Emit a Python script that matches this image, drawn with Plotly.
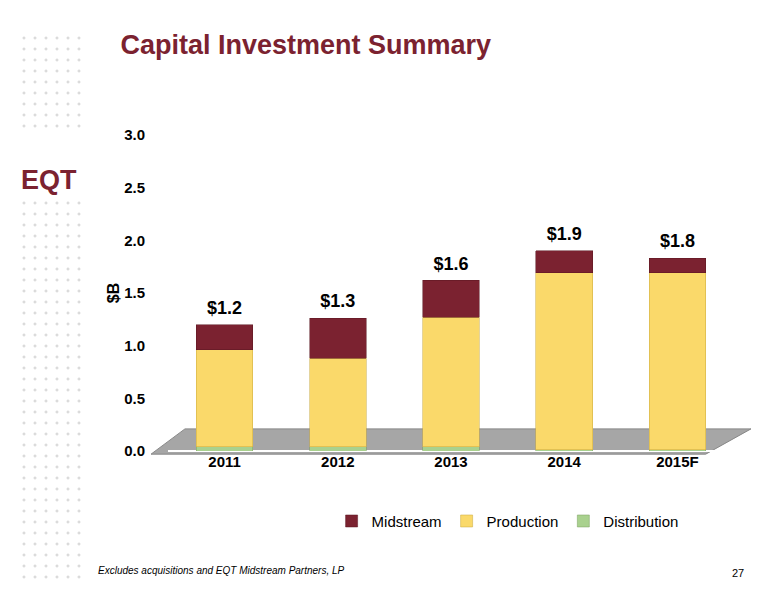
import numpy as np
import plotly.graph_objects as go

years = ["2011", "2012", "2013", "2014", "2015F"]
distribution = [0.04, 0.04, 0.04, 0.01, 0.01]
production = [0.92, 0.84, 1.23, 1.68, 1.68]
midstream = [0.24, 0.38, 0.35, 0.21, 0.14]
totals = ["$1.2", "$1.3", "$1.6", "$1.9", "$1.8"]

W, H = 776, 600
L, R, T, B = 160, 50, 127, 157
pw, ph = W - L - R, H - T - B

fig = go.Figure()
fig.add_trace(go.Bar(x=years, y=distribution, name="Distribution",
                     marker=dict(color="#A9D18E", line=dict(color="#7a9e60", width=0.5))))
fig.add_trace(go.Bar(x=years, y=production, name="Production",
                     marker=dict(color="#FAD96A", line=dict(color="#c9a93c", width=0.5))))
fig.add_trace(go.Bar(x=years, y=midstream, name="Midstream",
                     marker=dict(color="#7B2230", line=dict(color="#5a1520", width=0.5))))

top = [d + p + m for d, p, m in zip(distribution, production, midstream)]
fig.add_trace(go.Scatter(x=years, y=[t + 0.06 for t in top], mode="text",
                         text=["<b>" + t + "</b>" for t in totals],
                         textposition="top center", showlegend=False,
                         textfont=dict(size=18, color="#000000")))


def px_x(px):
    return (px - 9 - L) / pw


def px_y(py):
    return (H - B - py) / ph


# decorative dot grid at left (pixel layout of the slide background)
parts = []
for cx in np.arange(6) * 11 + 25:
    for cy in np.arange(50) * 11 + 30:
        if 120 < cy < 185:
            continue
        parts.append(f"M {px_x(cx - 1.5):.4f} {px_y(cy):.4f} L {px_x(cx + 1.5):.4f} {px_y(cy):.4f}")
        parts.append(f"M {px_x(cx):.4f} {px_y(cy - 1.5):.4f} L {px_x(cx):.4f} {px_y(cy + 1.5):.4f}")
fig.add_shape(type="path", xref="paper", yref="paper", path=" ".join(parts),
              line=dict(color="#cfcfcf", width=1), layer="below")

fig.update_layout(
    barmode="stack", bargap=0.5,
    width=W, height=H,
    paper_bgcolor="white", plot_bgcolor="rgba(0,0,0,0)",
    font=dict(family="Arial", color="#000000"),
    title=dict(text="<b>Capital Investment Summary</b>", x=0.145, y=0.955,
               font=dict(size=27, color="#7B2230")),
    margin=dict(l=L, r=R, t=T, b=B),
    xaxis=dict(tickfont=dict(size=15), showline=False, automargin=False,
               tickvals=years, ticktext=["<b>" + y + "</b>" for y in years]),
    yaxis=dict(range=[0, 3.0], showgrid=False, tickfont=dict(size=15), automargin=False,
               ticklabelstandoff=22,
               tickvals=[0, 0.5, 1, 1.5, 2, 2.5, 3],
               ticktext=["<b>%.1f</b>" % v for v in [0, 0.5, 1, 1.5, 2, 2.5, 3]],
               title=dict(text="<b>$B</b>", font=dict(size=16), standoff=0)),
    legend=dict(orientation="h", x=0.6, xanchor="center", y=-0.17, yanchor="top",
                traceorder="reversed", font=dict(size=15)),
)

fig.add_shape(type="path", xref="paper", yref="paper",
              path="M -0.03 -0.01 L 0.95 -0.01 L 1.03 0.07 L 0.03 0.07 Z",
              fillcolor="#A6A6A6", line=dict(color="#888888", width=1), layer="below")
fig.add_annotation(text="<b>EQT</b>", xref="paper", yref="paper",
                   x=px_x(20), y=px_y(155), xanchor="left", showarrow=False,
                   font=dict(size=27, color="#7B2230", family="Arial"))
fig.add_annotation(text="<i>Excludes acquisitions and EQT Midstream Partners, LP</i>", xref="paper",
                   yref="paper", x=px_x(97), y=px_y(570), xanchor="left", showarrow=False,
                   font=dict(size=10))
fig.add_annotation(text="27", xref="paper", yref="paper", x=px_x(747), y=px_y(573), showarrow=False,
                   font=dict(size=11))

fig.write_html("out.html")
